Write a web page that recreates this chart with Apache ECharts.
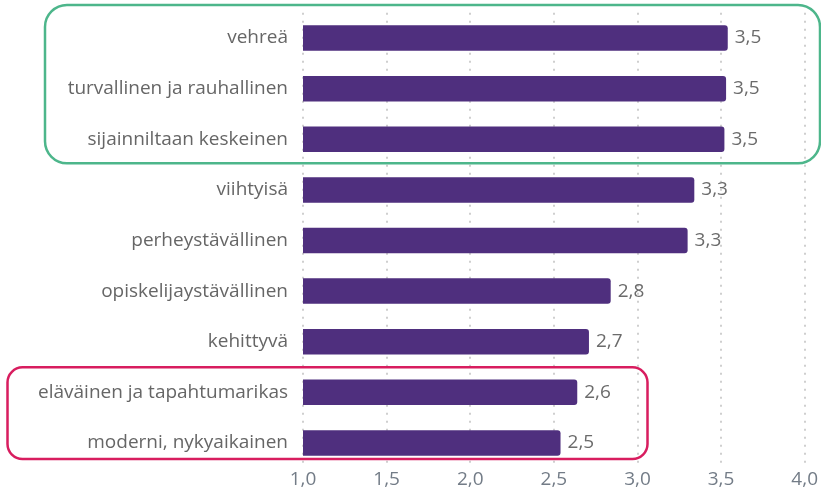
<!DOCTYPE html>
<html>
<head>
<meta charset="utf-8">
<script src="https://cdn.jsdelivr.net/npm/echarts@6/dist/echarts.min.js"></script>
<style>
html,body{margin:0;padding:0;background:#fff;}
#main{width:821px;height:493px;}
</style>
</head>
<body>
<div id="main"></div>
<script>
var categories = ["vehreä","turvallinen ja rauhallinen","sijainniltaan keskeinen","viihtyisä","perheystävällinen","opiskelijaystävällinen","kehittyvä","eläväinen ja tapahtumarikas","moderni, nykyaikainen"];
var values = [3.54, 3.53, 3.52, 3.34, 3.30, 2.84, 2.71, 2.64, 2.54];
var axisMin = 1.0, axisMax = 4.0, axisStep = 0.5;

function fi(v){ return v.toFixed(1).replace('.', ','); }

var chart = echarts.init(document.getElementById('main'), null, {renderer:'canvas'});
var font = '"Open Sans", "Noto Sans", sans-serif';
chart.setOption({
  animation:false,
  backgroundColor:'#ffffff',
  textStyle:{fontFamily:font},
  grid:{left:303, right:15, top:12.7, bottom:24.7, containLabel:false},
  xAxis:{
    type:'value', min:axisMin, max:axisMax, interval:axisStep,
    axisLine:{show:false}, axisTick:{show:false},
    axisLabel:{color:'#737c87', fontSize:19, fontFamily:font, margin:2, formatter:function(v){return fi(v);}},
    splitLine:{show:true, lineStyle:{color:'#cfcfcf', width:2, type:[2,6]}}
  },
  yAxis:{
    type:'category', data:categories, inverse:true,
    axisLine:{show:false}, axisTick:{show:false},
    axisLabel:{color:'#666666', fontSize:19, fontFamily:font, margin:15}
  },
  series:[{
    type:'bar', data:values, barWidth:25.5,
    itemStyle:{color:'#4f2f7e', borderRadius:[0,3,3,0]},
    label:{show:true, position:'right', distance:7, color:'#6b6b6b', fontSize:19, fontFamily:font,
      formatter:function(p){return fi(p.value);}}
  }]
});

function yOf(i){ return chart.convertToPixel({yAxisIndex:0}, categories[i]); }
var gTop = yOf(0) - 33, gBot = yOf(2) + 24;
var rTop = yOf(7) - 25, rBot = yOf(8) + 16;
chart.setOption({
  graphic:[
    {type:'rect', shape:{x:45, y:gTop, width:775, height:gBot-gTop, r:22},
     style:{fill:'none', stroke:'#4db68b', lineWidth:2.5}, z:100},
    {type:'rect', shape:{x:7.5, y:rTop, width:640, height:rBot-rTop, r:15},
     style:{fill:'none', stroke:'#d81d5f', lineWidth:2.5}, z:100}
  ]
});
</script>
</body>
</html>
